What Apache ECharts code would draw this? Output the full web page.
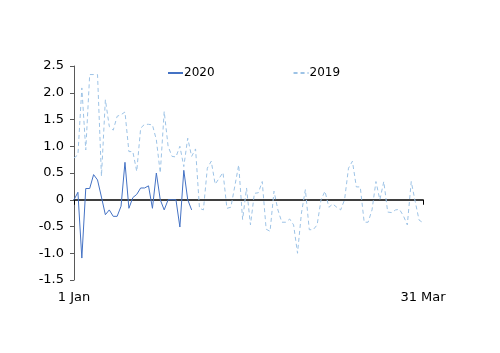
<!DOCTYPE html>
<html lang="en">
<head>
    <meta charset="utf-8">
    <title>2020 vs 2019</title>
    <script src="https://cdn.jsdelivr.net/npm/echarts@6/dist/echarts.min.js"></script>
    <style>
        html, body { margin: 0; padding: 0; background: #fff; }
        #main { width: 500px; height: 353px; }
    </style>
</head>
<body>
<div id="main"></div>
<script type="text/javascript">
    // x tick labels (first and last day of the period)
    var xTickLabels = {0: '1 Jan', 89: '31 Mar'};

    // daily values, 1 Jan onwards
    var values2020 = [0, 0.14, -1.09, 0.21, 0.21, 0.47, 0.37, 0.05, -0.28, -0.19,
        -0.31, -0.31, -0.12, 0.70, -0.16, 0.04, 0.10, 0.22, 0.22, 0.26,
        -0.16, 0.50, 0.0, -0.19, 0.0, 0.0, 0.0, -0.51, 0.55, 0.0, -0.19];

    var values2019 = [0.78, 0.84, 2.09, 0.93, 2.34, 2.34, 2.34, 0.44, 1.87, 1.37,
        1.30, 1.56, 1.59, 1.64, 0.90, 0.90, 0.53, 1.34, 1.41, 1.41,
        1.40, 1.12, 0.50, 1.65, 1.00, 0.81, 0.80, 1.00, 0.62, 1.15,
        0.81, 0.95, -0.16, -0.19, 0.59, 0.72, 0.29, 0.40, 0.51, -0.16,
        -0.14, 0.25, 0.65, -0.37, 0.22, -0.47, 0.12, 0.13, 0.34, -0.55,
        -0.59, 0.16, -0.19, -0.42, -0.42, -0.36, -0.47, -1.00, -0.25, 0.19,
        -0.56, -0.56, -0.47, 0.0, 0.16, -0.14, -0.08, -0.14, -0.19, 0.0,
        0.59, 0.72, 0.24, 0.24, -0.42, -0.42, -0.19, 0.34, 0.0, 0.34,
        -0.23, -0.24, -0.19, -0.18, -0.30, -0.47, 0.34, -0.03, -0.38, -0.43];

    function toPairs(arr) {
        return arr.map(function (v, i) { return [i, v]; });
    }

    var font = 'DejaVu Sans';
    var myChart = echarts.init(document.getElementById('main'));

    myChart.setOption({
        animation: false,
        textStyle: {fontFamily: font},
        grid: {left: 74, right: 77, top: 66, bottom: 73},
        legend: {
            left: 162,
            top: 62,
            itemGap: 78,
            itemWidth: 15,
            itemHeight: 8,
            itemStyle: {opacity: 0},
            textStyle: {fontFamily: font, fontSize: 12, color: '#000', padding: [0, 0, 0, -4]},
            data: ['2020', '2019']
        },
        xAxis: [
            {
                type: 'value',
                min: 0,
                max: 89,
                interval: 89,
                axisLine: {onZero: true, lineStyle: {color: '#000', width: 1.5}},
                axisTick: {show: true, length: 5, lineStyle: {color: '#000'}},
                axisLabel: {show: false},
                splitLine: {show: false}
            },
            {
                type: 'value',
                position: 'bottom',
                offset: 0,
                min: 0,
                max: 89,
                interval: 89,
                axisLine: {show: false, onZero: false},
                axisTick: {show: false},
                axisLabel: {
                    margin: 11,
                    fontSize: 13,
                    color: '#000',
                    formatter: function (v) { return xTickLabels[v] || ''; }
                },
                splitLine: {show: false}
            }
        ],
        yAxis: {
            type: 'value',
            min: -1.5,
            max: 2.5,
            interval: 0.5,
            axisLine: {show: true, onZero: false, lineStyle: {color: '#595959'}},
            axisTick: {show: true, length: 4, lineStyle: {color: '#595959'}},
            axisLabel: {
                margin: 10,
                fontSize: 13,
                color: '#000',
                formatter: function (v) { return v === 0 ? '0' : v.toFixed(1); }
            },
            splitLine: {show: false}
        },
        series: [
            {
                name: '2020',
                type: 'line',
                symbol: 'none',
                color: '#4472C4',
                lineStyle: {width: 1, color: '#4472C4'},
                data: toPairs(values2020)
            },
            {
                name: '2019',
                type: 'line',
                symbol: 'none',
                color: '#9DC3E6',
                lineStyle: {width: 1, color: '#9DC3E6', type: [4, 3]},
                data: toPairs(values2019)
            }
        ]
    });
</script>
</body>
</html>
